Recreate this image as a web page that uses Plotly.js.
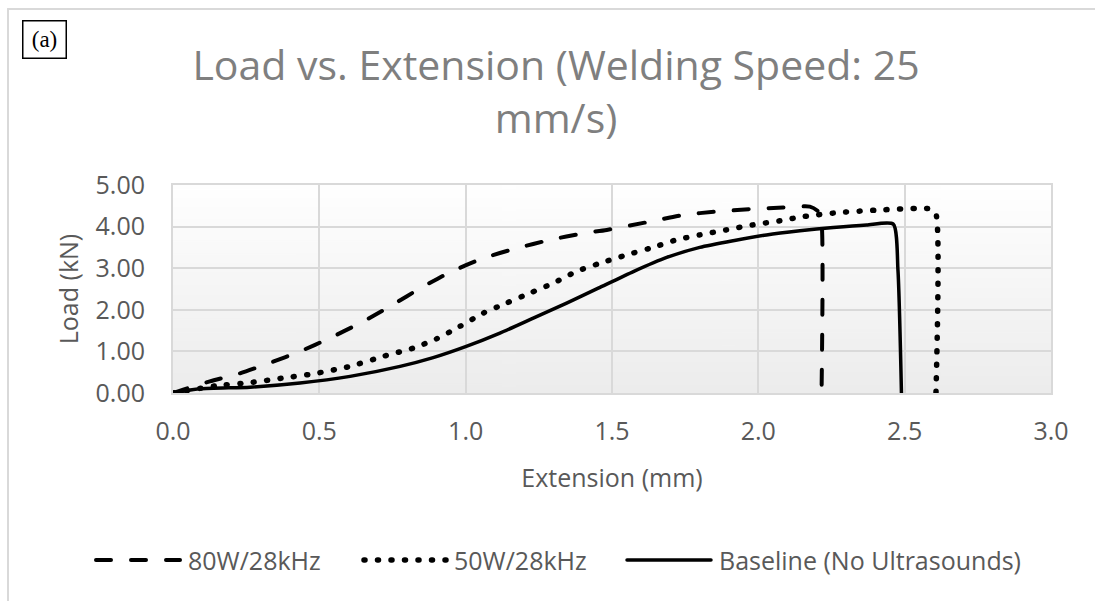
<!DOCTYPE html>
<html>
<head>
<meta charset="utf-8">
<script src="https://cdn.plot.ly/plotly-3.0.1.min.js"></script>
<style>
  html, body { margin: 0; padding: 0; background: #ffffff; }
  #chart { width: 1095px; height: 601px; }
  #chart .js-line, #chart .shapelayer path { stroke-linecap: round !important; }
</style>
</head>
<body>
<div id="chart"></div>
<script>
// ---------------- data ----------------
const seriesNames = ["80W/28kHz", "50W/28kHz", "Baseline (No Ultrasounds)"];

const ext80 = [0, 0.035, 0.126, 0.223, 0.33, 0.434, 0.536, 0.65, 0.741, 0.855, 0.952, 1.06, 1.174, 1.288, 1.402, 1.482, 1.63, 1.743, 1.857, 1.971, 2.085, 2.176, 2.205, 2.216, 2.216];
const load80 = [0, 0.08, 0.28, 0.46, 0.72, 1.0, 1.32, 1.72, 2.08, 2.56, 2.92, 3.24, 3.48, 3.68, 3.84, 3.92, 4.12, 4.28, 4.36, 4.42, 4.46, 4.48, 4.36, 4.1, 0];

const ext50 = [0, 0.149, 0.263, 0.377, 0.479, 0.605, 0.718, 0.821, 0.9, 0.98, 1.06, 1.139, 1.219, 1.299, 1.378, 1.459, 1.55, 1.63, 1.72, 1.80, 1.89, 1.98, 2.074, 2.153, 2.279, 2.415, 2.552, 2.59, 2.607, 2.607];
const load50 = [0, 0.175, 0.25, 0.36, 0.46, 0.64, 0.88, 1.08, 1.3, 1.6, 1.92, 2.16, 2.4, 2.64, 2.92, 3.12, 3.32, 3.48, 3.68, 3.8, 3.92, 4.04, 4.14, 4.24, 4.34, 4.40, 4.44, 4.42, 4.3, 0];

const extBase = [0, 0.092, 0.263, 0.434, 0.605, 0.776, 0.889, 1.002, 1.117, 1.231, 1.345, 1.453, 1.573, 1.687, 1.80, 1.914, 2.028, 2.142, 2.256, 2.37, 2.461, 2.477, 2.489];
const loadBase = [0, 0.1, 0.14, 0.24, 0.4, 0.64, 0.85, 1.12, 1.44, 1.8, 2.16, 2.52, 2.92, 3.26, 3.5, 3.66, 3.8, 3.9, 3.98, 4.04, 4.06, 2.96, 0];

const xTickVals = [0, 0.5, 1.0, 1.5, 2.0, 2.5, 3.0];
const yTickVals = [0, 1, 2, 3, 4, 5];

const titleText = "Load vs. Extension (Welding Speed: 25<br>mm/s)";
const xTitle = "Extension (mm)";
const yTitle = "Load (kN)";
const panelLabel = "(a)";

// ---------------- styling / layout ----------------
const FIG_W = 1095, FIG_H = 601;
const M = { l: 173, r: 44, t: 185, b: 208 };
const PW = FIG_W - M.l - M.r, PH = FIG_H - M.t - M.b;
const PX = px => (px - M.l) / PW;
const PY = py => (FIG_H - M.b - py) / PH;

const lineStyles = [
  { color: "#000000", width: 4, dash: "15px,20px", shape: "spline", smoothing: 0.6 },
  { color: "#000000", width: 5.5, dash: "1px,12.5px", shape: "spline", smoothing: 0.6 },
  { color: "#000000", width: 3.5, dash: "solid", shape: "spline", smoothing: 0.6 }
];

const xs = [ext80, ext50, extBase];
const ys = [load80, load50, loadBase];

const traces = xs.map((x, i) => ({
  type: "scatter",
  mode: "lines",
  x: x,
  y: ys[i],
  name: seriesNames[i],
  line: lineStyles[i],
  showlegend: false,
  hoverinfo: "x+y+name"
}));

// gradient background for plot area
function gradientURL() {
  const c = document.createElement("canvas");
  c.width = 4; c.height = 256;
  const g = c.getContext("2d");
  const grd = g.createLinearGradient(0, 0, 0, 256);
  grd.addColorStop(0, "#ffffff");
  grd.addColorStop(1, "#ececec");
  g.fillStyle = grd;
  g.fillRect(0, 0, 4, 256);
  return c.toDataURL("image/png");
}

const tickFont = { family: "Open Sans, sans-serif", size: 25, color: "#595959" };
const gridColor = "#d9d9d9";

// legend drawn with shapes + annotations
const legendY = PY(560);
const legendItems = [
  { x0: 96, x1: 180, tx: 186 },
  { x0: 364, x1: 446, tx: 452 },
  { x0: 627, x1: 711, tx: 717 }
];

const shapes = [];
const annotations = [];
legendItems.forEach((it, i) => {
  shapes.push({
    type: "line", xref: "paper", yref: "paper",
    x0: PX(it.x0), x1: PX(it.x1), y0: legendY, y1: legendY,
    line: { color: lineStyles[i].color, width: lineStyles[i].width, dash: lineStyles[i].dash }
  });
  annotations.push({
    xref: "paper", yref: "paper", x: PX(it.tx), y: legendY,
    xanchor: "left", yanchor: "middle", showarrow: false,
    text: seriesNames[i],
    font: { family: "Open Sans, sans-serif", size: 25, color: "#595959" }
  });
});

// outer chart frame (top and left edges)
shapes.push({
  type: "line", xref: "paper", yref: "paper",
  x0: PX(8), x1: PX(1100), y0: PY(9), y1: PY(9),
  line: { color: "#d9d9d9", width: 2 }
});
shapes.push({
  type: "line", xref: "paper", yref: "paper",
  x0: PX(8), x1: PX(8), y0: PY(9), y1: PY(610),
  line: { color: "#d9d9d9", width: 2 }
});

// panel label "(a)"
annotations.push({
  xref: "paper", yref: "paper", x: PX(22), y: PY(20),
  xanchor: "left", yanchor: "top", showarrow: false,
  text: panelLabel,
  font: { family: "Liberation Serif, serif", size: 23, color: "#000000" },
  bordercolor: "#000000", borderwidth: 1.5, borderpad: 0,
  width: 42, height: 36, align: "center", valign: "middle"
});

const layout = {
  width: FIG_W, height: FIG_H,
  margin: M,
  paper_bgcolor: "#ffffff",
  plot_bgcolor: "rgba(0,0,0,0)",
  showlegend: false,
  title: {
    text: titleText,
    font: { family: "Open Sans, sans-serif", size: 41, color: "#7f7f7f" },
    x: 556 / FIG_W, xref: "container", xanchor: "center",
    y: 1 - 80 / FIG_H, yref: "container", yanchor: "top"
  },
  xaxis: {
    range: [0, 3],
    tickvals: xTickVals,
    tickformat: ".1f",
    tickfont: tickFont,
    ticks: "outside", ticklen: 15, tickcolor: "rgba(0,0,0,0)",
    showgrid: true, gridcolor: gridColor, gridwidth: 2,
    zeroline: false,
    showline: true, mirror: true, linecolor: gridColor, linewidth: 2,
    automargin: true,
    title: { text: xTitle, font: tickFont, standoff: 23 },
    fixedrange: true
  },
  yaxis: {
    range: [0, 5],
    tickvals: yTickVals,
    tickformat: ".2f",
    tickfont: tickFont,
    ticks: "outside", ticklen: 21, tickcolor: "rgba(0,0,0,0)",
    showgrid: true, gridcolor: gridColor, gridwidth: 2,
    zeroline: false,
    showline: true, mirror: true, linecolor: gridColor, linewidth: 2,
    automargin: true,
    title: { text: yTitle, font: tickFont, standoff: 10 },
    fixedrange: true
  },
  images: [{
    source: gradientURL(),
    xref: "paper", yref: "paper",
    x: 0, y: 1, sizex: 1, sizey: 1,
    sizing: "stretch", layer: "below",
    xanchor: "left", yanchor: "top"
  }],
  shapes: shapes,
  annotations: annotations
};

Plotly.newPlot("chart", traces, layout, { staticPlot: true, displayModeBar: false });
</script>
</body>
</html>
